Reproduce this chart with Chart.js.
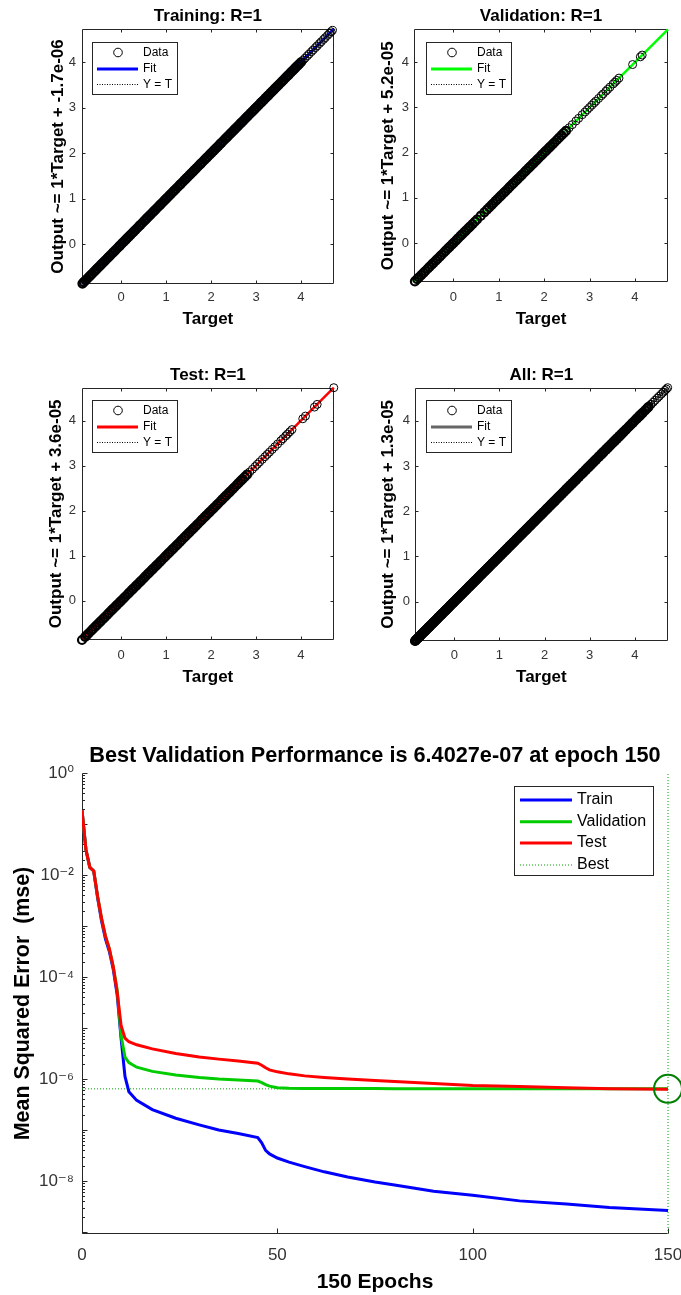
<!DOCTYPE html>
<html><head><meta charset="utf-8">
<script src="https://cdn.jsdelivr.net/npm/chart.js@4.4.1/dist/chart.umd.min.js"></script>
<style>
html,body{margin:0;padding:0;background:#fff;}
#wrap{position:relative;width:681px;height:1295px;overflow:hidden;background:#fff;}
canvas{position:absolute;}
</style></head><body>
<div id="wrap">
<canvas id="c1" width="340" height="340" style="left:0;top:0;width:340px;height:340px"></canvas>
<canvas id="c2" width="341" height="340" style="left:340px;top:0;width:341px;height:340px"></canvas>
<canvas id="c3" width="340" height="360" style="left:0;top:340px;width:340px;height:360px"></canvas>
<canvas id="c4" width="341" height="360" style="left:340px;top:340px;width:341px;height:360px"></canvas>
<canvas id="c5" width="684" height="575" style="left:0;top:720px;width:684px;height:575px"></canvas>
</div>
<script>
const FONT = "'Liberation Sans', Arial, 'DejaVu Sans', sans-serif";
Chart.defaults.font.family = FONT;
Chart.defaults.color = '#333';

// ---------------- DATA ----------------
// Regression plots: target values (output ~= target, R = 1)
const trainTarget = [-0.86,-0.83,-0.79,-0.76,-0.72,-0.68,-0.65,-0.61,-0.57,-0.54,-0.5,-0.46,-0.43,-0.39,-0.35,-0.31,-0.28,-0.24,-0.2,-0.17,-0.13,-0.09,-0.05,-0.02,0.02,0.06,0.1,0.13,0.17,0.21,0.25,0.28,0.32,0.36,0.4,0.43,0.47,0.51,0.55,0.58,0.62,0.66,0.7,0.73,0.77,0.81,0.85,0.88,0.92,0.96,1.0,1.03,1.07,1.11,1.15,1.18,1.22,1.26,1.3,1.33,1.37,1.41,1.45,1.48,1.52,1.56,1.6,1.63,1.67,1.71,1.75,1.78,1.82,1.86,1.9,1.93,1.97,2.01,2.05,2.08,2.12,2.16,2.2,2.23,2.27,2.31,2.35,2.38,2.42,2.46,2.5,2.53,2.57,2.61,2.65,2.68,2.72,2.76,2.8,2.83,2.87,2.91,2.95,2.98,3.02,3.06,3.1,3.13,3.17,3.21,3.25,3.28,3.32,3.36,3.4,3.43,3.47,3.51,3.55,3.58,3.62,3.66,3.7,3.73,3.77,3.81,3.85,3.88,3.92,3.96,4.0,4.05,4.09,4.14,4.18,4.23,4.27,4.32,4.36,4.41,4.45,4.5,4.54,4.59,4.63,4.67,4.7];
const valTarget = [-0.85,-0.8,-0.76,-0.71,-0.66,-0.62,-0.57,-0.53,-0.48,-0.44,-0.39,-0.35,-0.3,-0.26,-0.21,-0.17,-0.12,-0.08,-0.03,0.01,0.06,0.1,0.15,0.19,0.24,0.28,0.33,0.37,0.42,0.47,0.52,0.6,0.68,0.74,0.79,0.84,0.88,0.93,0.97,1.02,1.06,1.11,1.15,1.2,1.24,1.29,1.33,1.38,1.42,1.47,1.51,1.56,1.6,1.65,1.69,1.74,1.78,1.83,1.87,1.92,1.96,2.01,2.05,2.1,2.14,2.19,2.23,2.28,2.33,2.38,2.43,2.48,2.55,2.62,2.7,2.76,2.84,2.9,2.95,3.0,3.05,3.1,3.14,3.2,3.26,3.3,3.36,3.4,3.45,3.52,3.56,3.6,3.65,3.95,4.12,4.16];
const testTarget = [-0.87,-0.8,-0.76,-0.72,-0.67,-0.63,-0.58,-0.54,-0.49,-0.45,-0.4,-0.36,-0.31,-0.27,-0.22,-0.18,-0.13,-0.09,-0.04,0.0,0.05,0.09,0.14,0.18,0.23,0.27,0.32,0.36,0.41,0.45,0.5,0.54,0.59,0.63,0.68,0.72,0.77,0.81,0.86,0.9,0.95,0.99,1.04,1.08,1.13,1.17,1.22,1.26,1.31,1.35,1.4,1.44,1.49,1.53,1.58,1.62,1.67,1.71,1.76,1.8,1.85,1.89,1.94,1.98,2.03,2.07,2.12,2.16,2.21,2.25,2.3,2.34,2.39,2.43,2.48,2.52,2.57,2.61,2.66,2.7,2.75,2.8,2.86,2.92,2.98,3.03,3.08,3.14,3.2,3.25,3.3,3.36,3.42,3.48,3.55,3.6,3.66,3.7,3.75,3.8,4.04,4.1,4.3,4.36,4.73];
const allTarget = trainTarget.concat(valTarget, testTarget);
const axisRange = [-0.87, 4.73];

// Performance plot
const epochs = [0,1,2,3,4,5,6,7,8,9,10,11,12,14,18,24,30,35,40,45,46,47,48,50,53,57,62,68,75,80,90,100,112,124,135,150];
const perfTrain = [1.86e-1,3.16e-2,1.41e-2,1.20e-2,3.55e-3,1.26e-3,5.62e-4,3.16e-4,1.41e-4,4.47e-5,6.31e-6,1.12e-6,5.62e-7,3.80e-7,2.51e-7,1.70e-7,1.26e-7,1.00e-7,8.51e-8,7.08e-8,5.62e-8,3.98e-8,3.39e-8,2.82e-8,2.34e-8,1.91e-8,1.51e-8,1.20e-8,9.55e-9,8.32e-9,6.31e-9,5.25e-9,4.07e-9,3.55e-9,3.02e-9,2.63e-9];
const perfValidation = [1.86e-1,3.16e-2,1.41e-2,1.20e-2,3.80e-3,1.41e-3,6.31e-4,3.55e-4,1.58e-4,5.62e-5,7.08e-6,2.69e-6,2.09e-6,1.70e-6,1.41e-6,1.20e-6,1.07e-6,1.00e-6,9.55e-7,9.12e-7,8.51e-7,7.76e-7,7.24e-7,6.76e-7,6.61e-7,6.53e-7,6.50e-7,6.49e-7,6.47e-7,6.46e-7,6.45e-7,6.44e-7,6.43e-7,6.42e-7,6.41e-7,6.4027e-7];
const perfTest = [1.86e-1,3.16e-2,1.41e-2,1.20e-2,3.80e-3,1.41e-3,6.31e-4,3.55e-4,1.58e-4,5.01e-5,1.12e-5,6.31e-6,5.37e-6,4.68e-6,3.89e-6,3.16e-6,2.69e-6,2.45e-6,2.24e-6,2.04e-6,1.86e-6,1.66e-6,1.51e-6,1.38e-6,1.26e-6,1.15e-6,1.07e-6,1.00e-6,9.33e-7,8.91e-7,8.13e-7,7.41e-7,7.08e-7,6.76e-7,6.46e-7,6.31e-7];
const bestEpoch = 150;
const bestPerf = 6.4027e-7;
const perfYRange = [9.12e-10, 1];
const perfYTicks = [1e-8, 1e-6, 1e-4, 1e-2, 1];
const perfYTickLabels = ['10\u207B\u2078', '10\u207B\u2076', '10\u207B\u2074', '10\u207B\u00B2', '10\u2070'];
const perfXTicks = [0, 50, 100, 150];

// ---------------- PLUGINS ----------------
function framePlugin(o) {
  return {
    id: 'frame',
    beforeDatasetsDraw(chart) {
      const {ctx, chartArea: a, scales} = chart;
      const xs = scales.x, ys = scales.y;
      ctx.save();
      ctx.strokeStyle = '#262626';
      ctx.lineWidth = 1;
      ctx.setLineDash([]);
      ctx.beginPath();
      const L = Math.round(a.left) + 0.5, R = Math.round(a.right) - 0.5;
      const T = Math.round(a.top) + 0.5, B = Math.round(a.bottom) - 0.5;
      if (o.box) {
        ctx.rect(L, T, R - L, B - T);
      } else {
        ctx.moveTo(L, T); ctx.lineTo(L, B); ctx.lineTo(R, B);
      }
      ctx.stroke();
      ctx.beginPath();
      const tl = o.tickLen;
      const xv = xs.ticks.map(t => t.value);
      for (const v of xv) {
        const px = Math.round(xs.getPixelForValue(v)) + 0.5;
        if (px < L - 1 || px > R + 1) continue;
        ctx.moveTo(px, B); ctx.lineTo(px, B - tl);
        if (o.box) { ctx.moveTo(px, T); ctx.lineTo(px, T + tl); }
      }
      const yv = o.yMajor || ys.ticks.map(t => t.value);
      for (const v of yv) {
        const py = Math.round(ys.getPixelForValue(v)) + 0.5;
        if (py < T - 1 || py > B + 1) continue;
        ctx.moveTo(L, py); ctx.lineTo(L + tl, py);
        if (o.box) { ctx.moveTo(R, py); ctx.lineTo(R - tl, py); }
      }
      if (o.yMinor) {
        for (const v of o.yMinor) {
          const py = Math.round(ys.getPixelForValue(v)) + 0.5;
          if (py < T || py > B) continue;
          ctx.moveTo(L, py); ctx.lineTo(L + o.minorLen, py);
        }
      }
      ctx.stroke();
      ctx.restore();
    }
  };
}

function legendPlugin(o) {
  return {
    id: 'boxLegend',
    afterDatasetsDraw(chart) {
      const {ctx, chartArea: a} = chart;
      const x = Math.round(o.anchor === 'right' ? a.right - o.dx - o.w : a.left + o.dx);
      const y = Math.round(a.top + o.dy);
      ctx.save();
      ctx.fillStyle = '#fff';
      ctx.fillRect(x, y, o.w, o.h);
      ctx.strokeStyle = '#262626';
      ctx.lineWidth = 1;
      ctx.setLineDash([]);
      ctx.strokeRect(x + 0.5, y + 0.5, o.w, o.h);
      ctx.font = o.fontSize + 'px ' + FONT;
      ctx.textBaseline = 'middle';
      ctx.textAlign = 'left';
      o.items.forEach((it, i) => {
        const ry = y + o.rows[i];
        if (it.marker === 'circle') {
          ctx.beginPath();
          ctx.setLineDash([]);
          ctx.strokeStyle = '#000';
          ctx.lineWidth = 1;
          ctx.arc(x + o.markX, ry, 4.3, 0, Math.PI * 2);
          ctx.stroke();
        } else {
          ctx.beginPath();
          ctx.strokeStyle = it.color;
          ctx.lineWidth = it.width;
          ctx.setLineDash(it.dash || []);
          ctx.moveTo(x + o.lineX0, ry);
          ctx.lineTo(x + o.lineX1, ry);
          ctx.stroke();
          ctx.setLineDash([]);
        }
        ctx.fillStyle = '#000';
        ctx.fillText(it.label, x + o.textX, ry);
      });
      ctx.restore();
    }
  };
}

const noScalePad = s => { s.paddingLeft = 0; s.paddingRight = 0; s.paddingTop = 0; s.paddingBottom = 0; };

// ---------------- REGRESSION CHARTS ----------------
function regChart(id, c) {
  const pts = c.targets.map(t => ({x: t, y: t}));
  const line = axisRange.map(v => ({x: v, y: v}));
  return new Chart(document.getElementById(id), {
    type: 'scatter',
    data: {
      datasets: [
        { label: 'Data', data: pts, showLine: false, pointStyle: 'circle', pointRadius: 4,
          pointBorderWidth: (ctx) => (ctx.raw && ctx.raw.x <= c.denseMax ? 2.2 : 1),
          pointBorderColor: '#000', pointBackgroundColor: 'rgba(0,0,0,0)', clip: false },
        { label: 'Fit', data: line, showLine: true, borderColor: c.color, borderWidth: 2.5, pointRadius: 0, clip: false },
        { label: 'Y = T', data: line, showLine: true, borderColor: '#000', borderWidth: 1, borderDash: [1, 2], pointRadius: 0 }
      ]
    },
    options: {
      responsive: false, animation: false, events: [],
      layout: { padding: { left: 0, right: c.padRight, top: 0, bottom: 0 } },
      plugins: {
        legend: { display: false }, tooltip: { enabled: false },
        title: { display: true, fullSize: false, text: c.title, color: '#000',
                 font: { size: 17, weight: 'bold' }, padding: { top: c.titleTop, bottom: c.titleBottom } }
      },
      scales: {
        x: {
          type: 'linear', min: axisRange[0], max: axisRange[1],
          grid: { display: false, drawTicks: false }, border: { display: false },
          ticks: { stepSize: 1, includeBounds: false, padding: c.xTickPad, font: { size: 13 }, color: '#333', maxRotation: 0, autoSkip: false },
          title: { display: true, text: 'Target', color: '#000', font: { size: 17, weight: 'bold' }, padding: { top: 0, bottom: c.xTitlePad } },
          afterFit: s => { s.height = c.xHeight; noScalePad(s); }
        },
        y: {
          type: 'linear', min: axisRange[0], max: axisRange[1],
          grid: { display: false, drawTicks: false }, border: { display: false },
          ticks: { stepSize: 1, includeBounds: false, padding: c.yTickPad, font: { size: 13 }, color: '#333', autoSkip: false },
          title: { display: true, text: c.ylabel, color: '#000', font: { size: 17, weight: 'bold' }, padding: { top: c.yTitlePad, bottom: 0 } },
          afterFit: s => { s.width = c.yWidth; noScalePad(s); }
        }
      }
    },
    plugins: [
      framePlugin({ box: true, tickLen: 3 }),
      legendPlugin({ anchor: 'left', dx: c.legDx, dy: c.legDy, w: 85, h: 52, fontSize: 12,
        rows: [10.5, 27, 42.5], markX: 26, lineX0: 5, lineX1: 46, textX: 51,
        items: [
          { label: 'Data', marker: 'circle' },
          { label: 'Fit', color: c.color, width: 3 },
          { label: 'Y = T', color: '#000', width: 1, dash: [1, 1.5] }
        ] })
    ]
  });
}

regChart('c1', { targets: trainTarget, denseMax: 4.0, color: 'rgb(0,0,255)', title: 'Training: R=1',
  ylabel: 'Output ~= 1*Target + -1.7e-06', padRight: 6, titleTop: 6.5, titleBottom: 2.1,
  xHeight: 56, xTitlePad: 10.5, yWidth: 82, yTitlePad: 48.1, xTickPad: 6, yTickPad: 6, legDx: 10, legDy: 13 });
regChart('c2', { targets: valTarget, denseMax: 2.5, color: 'rgb(0,255,0)', title: 'Validation: R=1',
  ylabel: 'Output ~= 1*Target + 5.2e-05', padRight: 13, titleTop: 6.5, titleBottom: 2.4,
  xHeight: 57.7, xTitlePad: 10.5, yWidth: 74, yTitlePad: 38.1, xTickPad: 7, yTickPad: 5, legDx: 12, legDy: 12.4 });
regChart('c3', { targets: testTarget, denseMax: 2.85, color: 'rgb(255,0,0)', title: 'Test: R=1',
  ylabel: 'Output ~= 1*Target + 3.6e-05', padRight: 6, titleTop: 24.8, titleBottom: 2.5,
  xHeight: 60, xTitlePad: 12.5, yWidth: 82, yTitlePad: 46.5, xTickPad: 8, yTickPad: 6, legDx: 10, legDy: 12.3 });
regChart('c4', { targets: allTarget, denseMax: 4.3, color: 'rgb(102,102,102)', title: 'All: R=1',
  ylabel: 'Output ~= 1*Target + 1.3e-05', padRight: 13.3, titleTop: 24.8, titleBottom: 2.5,
  xHeight: 59, xTitlePad: 12.5, yWidth: 75, yTitlePad: 38.1, xTickPad: 7, yTickPad: 5, legDx: 11, legDy: 12.3 });

// ---------------- PERFORMANCE CHART ----------------
const toPts = arr => epochs.map((e, i) => ({x: e, y: arr[i]}));
const decades = [], minors = [];
for (let k = -10; k <= 0; k++) {
  decades.push(Math.pow(10, k));
  for (let m = 2; m <= 9; m++) minors.push(m * Math.pow(10, k));
}
const BLUE = 'rgb(0,0,255)', GREEN = 'rgb(0,204,0)', RED = 'rgb(255,0,0)', BESTC = 'rgb(0,160,0)';

new Chart(document.getElementById('c5'), {
  type: 'scatter',
  data: {
    datasets: [
      { label: 'BestPoint', data: [{x: bestEpoch, y: bestPerf}], showLine: false, pointRadius: 14,
        pointBorderWidth: 2, pointBorderColor: 'rgb(0,128,0)', pointBackgroundColor: 'rgba(0,0,0,0)', clip: false },
      { label: 'Test', data: toPts(perfTest), showLine: true, borderColor: RED, borderWidth: 3, pointRadius: 0 },
      { label: 'Validation', data: toPts(perfValidation), showLine: true, borderColor: GREEN, borderWidth: 3, pointRadius: 0 },
      { label: 'Train', data: toPts(perfTrain), showLine: true, borderColor: BLUE, borderWidth: 3, pointRadius: 0 },
      { label: 'Best', data: [{x: 0, y: bestPerf}, {x: bestEpoch, y: bestPerf}], showLine: true, borderColor: BESTC, borderWidth: 1, borderDash: [1, 2], pointRadius: 0 },
      { label: 'BestV', data: [{x: bestEpoch, y: perfYRange[0]}, {x: bestEpoch, y: perfYRange[1]}], showLine: true, borderColor: BESTC, borderWidth: 1, borderDash: [1, 2], pointRadius: 0, clip: false }
    ]
  },
  options: {
    responsive: false, animation: false, events: [],
    layout: { padding: { left: 0, right: 10, top: 0, bottom: 0 } },
    plugins: {
      legend: { display: false }, tooltip: { enabled: false },
      title: { display: true, fullSize: false, text: 'Best Validation Performance is 6.4027e-07 at epoch 150',
               color: '#000', font: { size: 21.7, weight: 'bold', lineHeight: 25.2 / 21.7 }, padding: { top: 23.4, bottom: 4.4 } }
    },
    scales: {
      x: {
        type: 'linear', min: 0, max: 150,
        grid: { display: false, drawTicks: false }, border: { display: false },
        afterBuildTicks: s => { s.ticks = perfXTicks.map(v => ({value: v})); },
        ticks: { padding: 10.8, font: { size: 17 }, color: '#333', maxRotation: 0, autoSkip: false },
        title: { display: true, text: '150 Epochs', color: '#000', font: { size: 21, weight: 'bold' }, padding: { top: 0, bottom: 0 } },
        afterFit: s => { s.height = 61; noScalePad(s); }
      },
      y: {
        type: 'logarithmic', min: perfYRange[0], max: perfYRange[1],
        grid: { display: false, drawTicks: false }, border: { display: false },
        afterBuildTicks: s => { s.ticks = perfYTicks.map(v => ({value: v})); },
        ticks: { padding: 8, font: { size: 17 }, color: '#333', autoSkip: false,
                 callback: v => { const i = perfYTicks.indexOf(v); return i >= 0 ? perfYTickLabels[i] : ''; } },
        title: { display: true, text: 'Mean Squared Error  (mse)', color: '#000', font: { size: 21.4, weight: 'bold' }, padding: { top: 10, bottom: 0 } },
        afterFit: s => { s.width = 82; noScalePad(s); }
      }
    }
  },
  plugins: [
    framePlugin({ box: false, tickLen: 5, yMajor: decades, yMinor: minors, minorLen: 2.5 }),
    legendPlugin({ anchor: 'right', dx: 15, dy: 13, w: 139, h: 89, fontSize: 16,
      rows: [14, 35.7, 57, 79], lineX0: 6, lineX1: 58, textX: 63,
      items: [
        { label: 'Train', color: BLUE, width: 3 },
        { label: 'Validation', color: GREEN, width: 3 },
        { label: 'Test', color: RED, width: 3 },
        { label: 'Best', color: BESTC, width: 1, dash: [1, 2] }
      ] })
  ]
});
</script>
</body></html>
